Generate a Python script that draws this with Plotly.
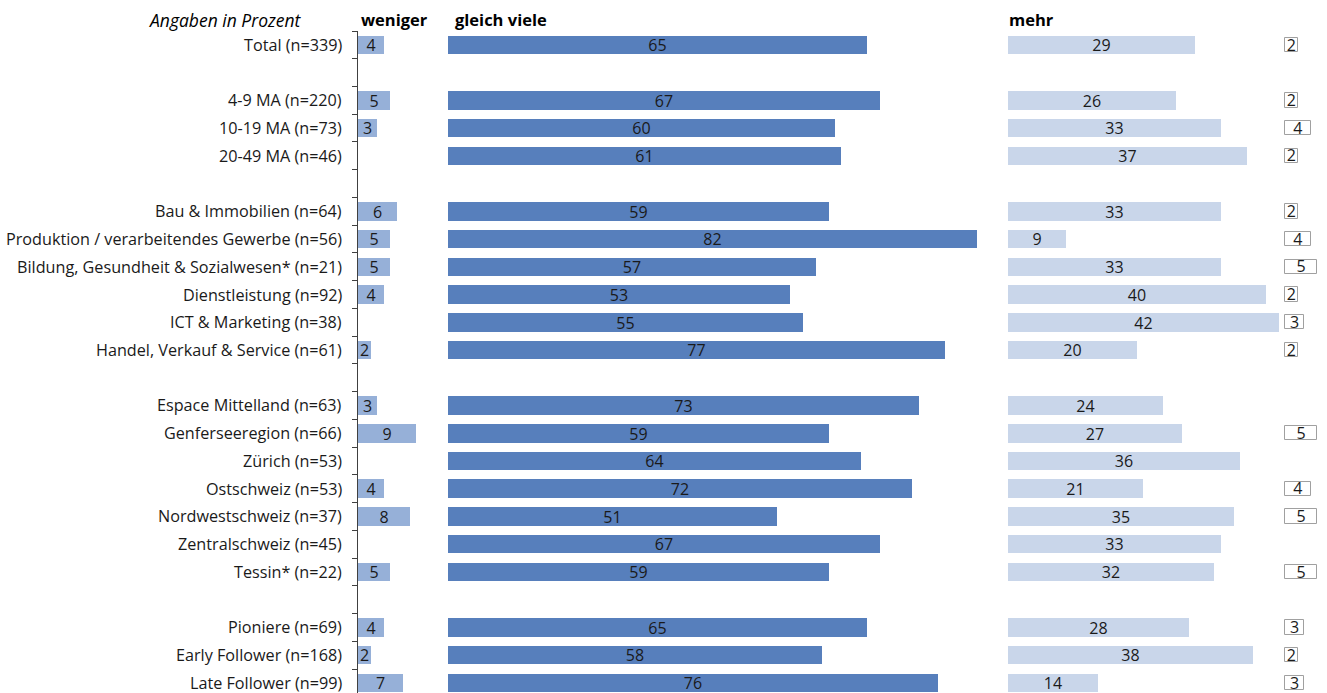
import plotly.graph_objects as go

# Category groups (a blank slot separates consecutive groups)
groups = [
    ["Total (n=339)"],
    ["4-9 MA (n=220)", "10-19 MA (n=73)", "20-49 MA (n=46)"],
    ["Bau & Immobilien (n=64)", "Produktion / verarbeitendes Gewerbe (n=56)",
     "Bildung, Gesundheit & Sozialwesen* (n=21)", "Dienstleistung (n=92)",
     "ICT & Marketing (n=38)", "Handel, Verkauf & Service (n=61)"],
    ["Espace Mittelland (n=63)", "Genferseeregion (n=66)", "Zürich (n=53)",
     "Ostschweiz (n=53)", "Nordwestschweiz (n=37)", "Zentralschweiz (n=45)",
     "Tessin* (n=22)"],
    ["Pioniere (n=69)", "Early Follower (n=168)", "Late Follower (n=99)"],
]

weniger = [4, 5, 3, None, 6, 5, 5, 4, None, 2, 3, 9, None, 4, 8, None, 5, 4, 2, 7]
gleich_viele = [65, 67, 60, 61, 59, 82, 57, 53, 55, 77, 73, 59, 64, 72, 51, 67, 59, 65, 58, 76]
mehr = [29, 26, 33, 37, 33, 9, 33, 40, 42, 20, 24, 27, 36, 21, 35, 33, 32, 28, 38, 14]
weiss_nicht = [2, 2, 4, 2, 2, 4, 5, 2, 3, 2, None, 5, None, 4, 5, None, 5, 3, 2, 3]

headers = ["weniger", "gleich viele", "mehr"]
note = "Angaben in Prozent"

# slot positions with a gap row between groups
labels, ypos = [], []
slot = 0
for gi, grp in enumerate(groups):
    if gi > 0:
        slot += 1
    for lab in grp:
        labels.append(lab)
        ypos.append(slot)
        slot += 1
n_slots = slot

W, H = 1327, 693
TOP = 31
PX_PER_PCT = 6.45
SLOT_PX = 27.74
plot_h = H - TOP
y_bottom = -0.5 + plot_h / SLOT_PX

FONT = "Open Sans"
TXT = "#1a1a1a"


def px(x):
    return x / W


def axis_dom(x0, x1, pad=0.0):
    # pad (in %) leaves room so a bar outline at 0 is not clipped
    return dict(domain=[px(x0), px(x1)],
                range=[-pad, (x1 - x0) / PX_PER_PCT - pad],
                visible=False, fixedrange=True)


fig = go.Figure()

# filled bars with their value printed inside
series = [
    (weniger, "x", "#96b0d8"),
    (gleich_viele, "x2", "#577fbc"),
    (mehr, "x3", "#c9d6ea"),
]
for vals, xa, col in series:
    fig.add_trace(go.Bar(
        x=vals, y=ypos, orientation="h", xaxis=xa, yaxis="y",
        width=0.67, marker=dict(color=col, line=dict(width=0)),
        text=["" if v is None else str(v) for v in vals],
        textposition="inside", insidetextanchor="middle",
        textangle=0, constraintext="none",
        textfont=dict(family=FONT, size=16, color=TXT),
        hoverinfo="skip", showlegend=False,
    ))

# outlined boxes for the remaining share
fig.add_trace(go.Bar(
    x=weiss_nicht, y=ypos, orientation="h", xaxis="x4", yaxis="y",
    width=0.52, marker=dict(color="#ffffff", line=dict(color="#a0a0a0", width=1)),
    hoverinfo="skip", showlegend=False,
))
pts = [(v / 2, y + 0.06, str(v)) for v, y in zip(weiss_nicht, ypos) if v is not None]
fig.add_trace(go.Scatter(
    x=[p[0] for p in pts], y=[p[1] for p in pts], text=[p[2] for p in pts],
    mode="text", textposition="middle center", xaxis="x4", yaxis="y",
    textfont=dict(family=FONT, size=16, color=TXT), cliponaxis=False,
    hoverinfo="skip", showlegend=False,
))

boundaries = [i - 0.5 for i in range(n_slots + 1)]

fig.update_layout(
    width=W, height=H,
    margin=dict(l=0, r=0, t=TOP, b=0),
    paper_bgcolor="white", plot_bgcolor="white",
    bargap=0,
    xaxis=axis_dom(358, 442),
    xaxis2=dict(axis_dom(448, 1000), anchor="y"),
    xaxis3=dict(axis_dom(1008, 1283), anchor="y"),
    xaxis4=dict(axis_dom(1283, 1327, pad=0.3), anchor="y"),
    yaxis=dict(range=[y_bottom, -0.5], domain=[0, 1], anchor="x",
               showline=True, linecolor="#404040", linewidth=1,
               ticks="outside", ticklen=5, tickcolor="#404040",
               tickvals=boundaries, showticklabels=False,
               showgrid=False, zeroline=False, fixedrange=True),
)

# category labels
for lab, y in zip(labels, ypos):
    fig.add_annotation(x=px(344), xref="paper", y=y, yref="y", text=lab,
                       showarrow=False, xanchor="right", yanchor="middle",
                       font=dict(family=FONT, size=16.2, color=TXT))

# column headers
head_y = 1 + (TOP - 20) / plot_h
for txt, x0 in zip(headers, [359, 453, 1007]):
    fig.add_annotation(x=px(x0), xref="paper", y=head_y, yref="paper",
                       text=f"<b>{txt}</b>", showarrow=False,
                       xanchor="left", yanchor="middle",
                       font=dict(family=FONT, size=16.5, color="#000000"))
fig.add_annotation(x=px(304), xref="paper", y=head_y, yref="paper",
                   text=f"<i>{note}</i>", showarrow=False,
                   xanchor="right", yanchor="middle",
                   font=dict(family=FONT, size=17.5, color="#000000"))

fig.write_html("out.html")
